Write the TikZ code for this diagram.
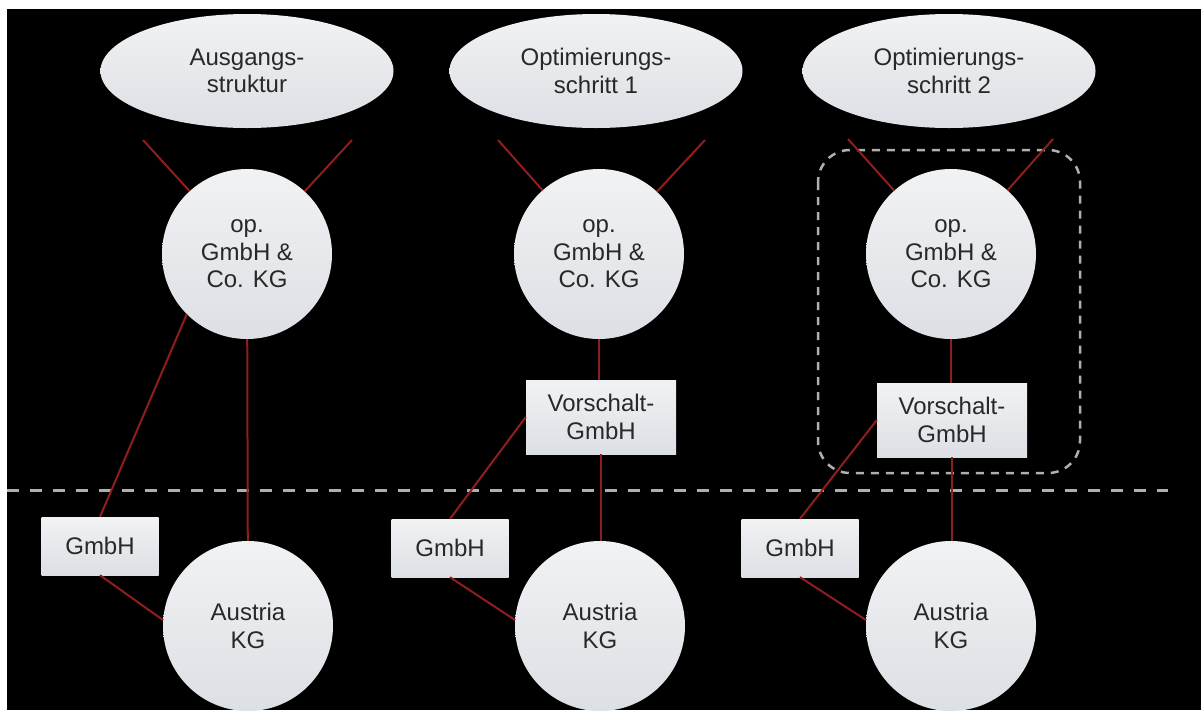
\documentclass[tikz,border=0pt]{standalone}
\usepackage{fontspec}
\setmainfont{Liberation Sans}
\usetikzlibrary{shapes.geometric}
\definecolor{nodetop}{RGB}{241,242,244}
\definecolor{nodebot}{RGB}{220,223,228}
\definecolor{ink}{RGB}{40,40,40}
\definecolor{linkred}{RGB}{145,30,30}
\definecolor{guide}{RGB}{175,175,175}
\begin{document}
\begin{tikzpicture}[x=1pt,y=-1pt,
  lbl/.style={font=\fontsize{24}{27.6}\selectfont, text=ink, align=center, inner sep=0pt},
  entity/.style={lbl, top color=nodetop, bottom color=nodebot, draw=none},
  oval/.style={entity, ellipse, minimum width=293pt, minimum height=114pt},
  company/.style={entity, circle, minimum size=170pt},
  holding/.style={entity, rectangle, minimum width=117pt, minimum height=58pt},
  feeder/.style={entity, rectangle, minimum width=150pt, minimum height=74pt},
  tie/.style={draw=linkred, line width=2pt},
  border/.style={draw=guide, line width=3pt, dash pattern=on 12pt off 11pt},
  groupframe/.style={draw=guide, line width=2.5pt, dash pattern=on 8pt off 7pt, rounded corners=32pt}
]
% canvas
\useasboundingbox (0,0) rectangle (1201,713);
\fill[white] (0,0) rectangle (1201,713);
\fill[black] (7,9) rectangle (1201,710);

% dividing line and grouping frame
\draw[border] (7,490) -- (1168,490);
\draw[groupframe] (818,150) rectangle (1080,473);

% stage headings
\node[oval] (ell1) at (247,71) {Ausgangs-\\struktur};
\node[oval] (ell2) at (596,71) {Optimierungs-\\schritt 1};
\node[oval] (ell3) at (949,71) {Optimierungs-\\schritt 2};

% operating partnerships
\node[company] (op1) at (247,254) {op.\\GmbH \&\\Co. KG};
\node[company] (op2) at (599,254) {op.\\GmbH \&\\Co. KG};
\node[company] (op3) at (951,254) {op.\\GmbH \&\\Co. KG};

% intermediate companies
\node[feeder] (vor2) at (601,417) {Vorschalt-\\GmbH};
\node[feeder] (vor3) at (952,420) {Vorschalt-\\GmbH};

% general partners
\node[holding] (gm1) at (100,546) {GmbH};
\node[holding] (gm2) at (450,548) {GmbH};
\node[holding] (gm3) at (800,548) {GmbH};

% Austrian partnerships
\node[company] (aus1) at (248,626) {Austria\\KG};
\node[company] (aus2) at (600,626) {Austria\\KG};
\node[company] (aus3) at (951,626) {Austria\\KG};

% loose ends of the shareholder lines
\coordinate (s1a) at (143,140);
\coordinate (s1b) at (352,140);
\coordinate (s2a) at (498,140);
\coordinate (s2b) at (705,140);
\coordinate (s3a) at (848,139);
\coordinate (s3b) at (1053,139);

% column 1
\draw[tie] (s1a) -- (op1);
\draw[tie] (s1b) -- (op1);
\draw[tie] (op1) -- (aus1);
\draw[tie] (op1.225) -- (gm1.north);
\draw[tie] (gm1.south) -- (aus1.176);

% column 2
\draw[tie] (s2a) -- (op2);
\draw[tie] (s2b) -- (op2);
\draw[tie] (op2.south) -- (op2.south |- vor2.north);
\draw[tie] (vor2.south) -- (vor2.south |- aus2.north);
\draw[tie] (vor2.west) -- (gm2.north);
\draw[tie] (gm2.south) -- (aus2.176);

% column 3
\draw[tie] (s3a) -- (op3);
\draw[tie] (s3b) -- (op3);
\draw[tie] (op3.south) -- (op3.south |- vor3.north);
\draw[tie] (vor3.south) -- (vor3.south |- aus3.north);
\draw[tie] (vor3.west) -- (gm3.north);
\draw[tie] (gm3.south) -- (aus3.176);
\end{tikzpicture}
\end{document}
